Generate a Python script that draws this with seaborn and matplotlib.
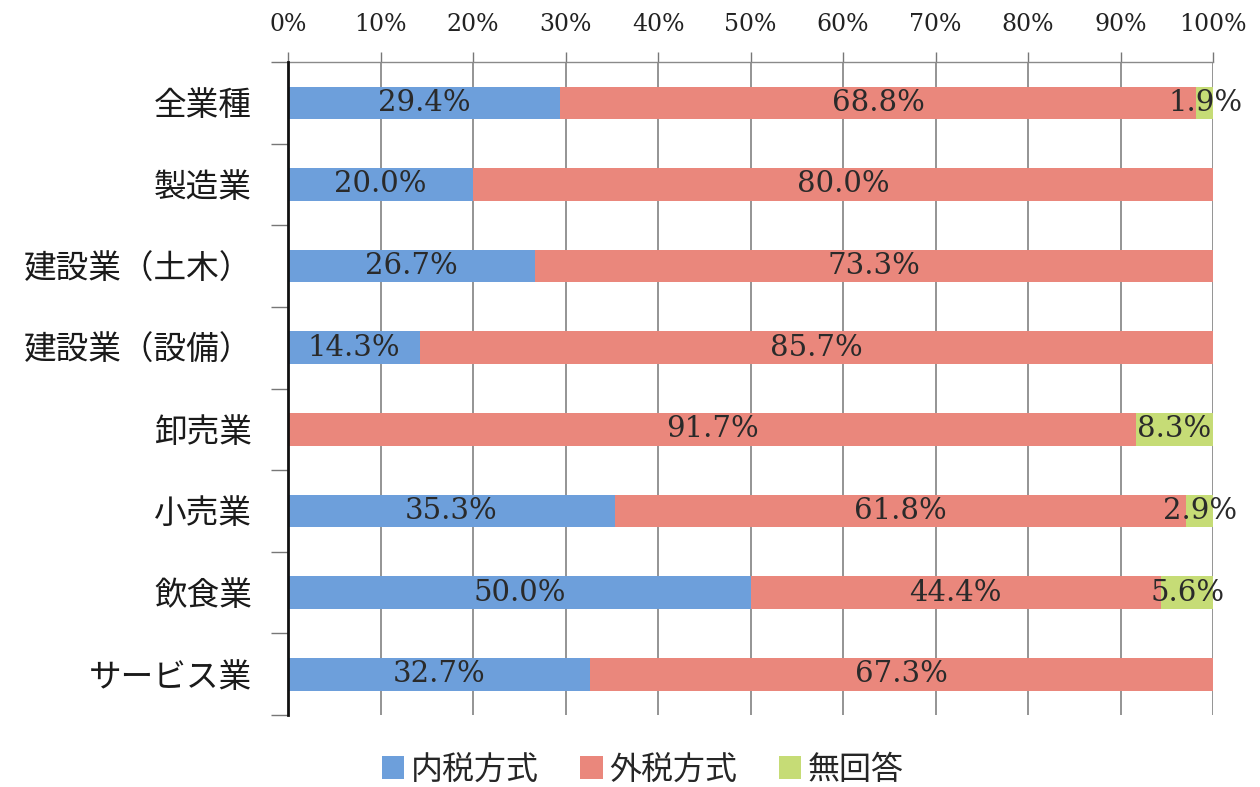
import numpy as np
import pandas as pd
import matplotlib
matplotlib.use("Agg")
import matplotlib.pyplot as plt
import seaborn as sns
from matplotlib.patches import Patch
from matplotlib.ticker import FixedLocator

categories = ["全業種", "製造業", "建設業（土木）", "建設業（設備）", "卸売業", "小売業", "飲食業", "サービス業"]
series_names = ["内税方式", "外税方式", "無回答"]
uchizei = [29.4, 20.0, 26.7, 14.3, 0.0, 35.3, 50.0, 32.7]
sotozei = [68.8, 80.0, 73.3, 85.7, 91.7, 61.8, 44.4, 67.3]
mukaitou = [1.9, 0.0, 0.0, 0.0, 8.3, 2.9, 5.6, 0.0]
x_ticks = [0, 10, 20, 30, 40, 50, 60, 70, 80, 90, 100]
x_tick_labels = [f"{t}%" for t in x_ticks]

colors = ["#6d9fdb", "#ea877c", "#c6dc76"]

sns.set_theme(style="white")
plt.rcParams["font.family"] = ["Noto Sans CJK JP", "DejaVu Sans"]

df = pd.DataFrame({"cat": categories, "a": uchizei, "b": sotozei, "c": mukaitou})
df["cum1"] = df["a"]
df["cum2"] = df["a"] + df["b"]
df["cum3"] = df["cum2"] + df["c"]

fig = plt.figure(figsize=(12.6, 7.87), dpi=100)
ax = fig.add_axes([0.2286, 0.0915, 0.7341, 0.8297])

ax.xaxis.grid(True, color="#777777", linewidth=1.1)
ax.set_axisbelow(True)

for col, c in zip(["cum3", "cum2", "cum1"], [colors[2], colors[1], colors[0]]):
    sns.barplot(data=df, x=col, y="cat", orient="h", color=c, saturation=1,
                width=0.4, ax=ax, linewidth=0, zorder=2)

serif = ["DejaVu Serif"]
for i in range(len(categories)):
    segs = [(0, uchizei[i]), (uchizei[i], sotozei[i]), (uchizei[i] + sotozei[i], mukaitou[i])]
    for start, w in segs:
        if w > 0:
            ax.text(start + w / 2, i, f"{w:.1f}%", ha="center", va="center",
                    fontsize=21, family=serif, color="#2a2a2a", zorder=4)

ax.set_xlim(0, 100)
ax.set_ylim(len(categories) - 0.5, -0.5)
ax.xaxis.tick_top()
ax.set_xticks(x_ticks)
ax.set_xticklabels(x_tick_labels, family=serif, fontsize=17, color="#222222")
ax.tick_params(axis="x", which="major", top=True, bottom=False, length=7, width=1,
               color="#777777", pad=12)
ax.set_xlabel("")
ax.set_ylabel("")
ax.set_yticks(range(len(categories)))
ax.set_yticklabels(categories, fontsize=23.5, color="#1a1a1a")
ax.tick_params(axis="y", which="major", length=0, pad=26)
ax.yaxis.set_minor_locator(FixedLocator(np.arange(-0.5, len(categories), 1.0)))
ax.tick_params(axis="y", which="minor", left=True, length=12, width=1, color="#777777")

for s in ["right", "bottom"]:
    ax.spines[s].set_visible(False)
ax.spines["top"].set_color("#8a8a8a")
ax.spines["top"].set_linewidth(1)
ax.spines["left"].set_color("#111111")
ax.spines["left"].set_linewidth(2)
ax.spines["left"].set_zorder(5)

handles = [Patch(facecolor=c, edgecolor="none") for c in colors]
fig.legend(handles, series_names, loc="center", bbox_to_anchor=(0.51, 0.022),
           ncol=3, frameon=False, fontsize=23, handlelength=0.7, handleheight=0.7,
           handletextpad=0.2, columnspacing=1.3)

fig.savefig("out.png", dpi=100)
